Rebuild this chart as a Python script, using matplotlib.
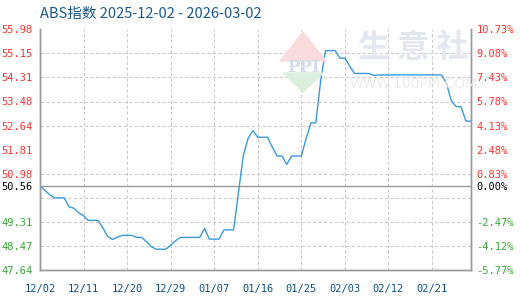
import numpy as np
import pandas as pd
import matplotlib
matplotlib.use("Agg")
import matplotlib.pyplot as plt
from matplotlib.patches import Polygon

plt.rcParams['font.family'] = ['DejaVu Sans', 'Noto Sans CJK SC']

title = "ABS指数 2025-12-02 - 2026-03-02"
base = 50.56

# daily index values, 12/02 onward
values = [50.56, 50.40, 50.25, 50.14, 50.14, 50.14, 49.83, 49.78, 49.62, 49.52,
          49.36, 49.36, 49.36, 49.10, 48.80, 48.70, 48.78, 48.84, 48.84, 48.84,
          48.77, 48.77, 48.62, 48.45, 48.36, 48.36, 48.36, 48.50, 48.65, 48.77,
          48.77, 48.77, 48.77, 48.77, 49.08, 48.71, 48.71, 48.71, 49.03, 49.03,
          49.03, 50.30, 51.60, 52.20, 52.47, 52.24, 52.24, 52.24, 51.90, 51.59,
          51.59, 51.30, 51.59, 51.59, 51.59, 52.20, 52.74, 52.74, 54.20, 55.24,
          55.24, 55.24, 54.98, 54.98, 54.70, 54.45, 54.45, 54.45, 54.45, 54.38,
          54.40, 54.40, 54.40, 54.40, 54.40, 54.40, 54.40, 54.40, 54.40, 54.40,
          54.40, 54.40, 54.40, 54.40, 54.10, 53.50, 53.30, 53.30, 52.80, 52.80]
dates = pd.date_range("2025-12-02", periods=len(values), freq="D")

left_ticks = [55.98, 55.15, 54.31, 53.48, 52.64, 51.81, 50.98, 50.56, 49.31, 48.47, 47.64]
right_labels = ["10.73%", "9.08%", "7.43%", "5.78%", "4.13%", "2.48%", "0.83%", "0.00%",
                "-2.47%", "-4.12%", "-5.77%"]
x_labels = ["12/02", "12/11", "12/20", "12/29", "01/07", "01/16", "01/25", "02/03", "02/12", "02/21"]

red = "#ff3333"
green = "#33aa33"
line_c = "#3a9ad9"
axis_c = "#999999"
grid_c = "#cccccc"
blue_txt = "#0b4f85"


def label_color(v):
    if v > base + 1e-9:
        return red
    if v < base - 1e-9:
        return green
    return "black"


fig = plt.figure(figsize=(5.2, 3.0), dpi=100)
ax = fig.add_axes([40 / 520, 30 / 300, 430.7 / 520, 240.7 / 300])

# watermark
fig.text(0.795, 0.84, "生 意 社", fontsize=23, color="#e3e7f0", ha="center", va="center",
         family=["Noto Sans CJK SC"], fontweight="bold", zorder=0)
fig.text(0.795, 0.72, "WWW.100PPI.COM", fontsize=10, color="#ebebeb", ha="center", va="center",
         zorder=0)
fig.patches.append(Polygon([[280 / 520, 1 - 61 / 300], [303 / 520, 1 - 32 / 300], [326 / 520, 1 - 61 / 300]],
                           closed=True, transform=fig.transFigure, color="#fadcdc", zorder=0))
fig.patches.append(Polygon([[283 / 520, 1 - 73 / 300], [303 / 520, 1 - 92 / 300], [323 / 520, 1 - 73 / 300]],
                           closed=True, transform=fig.transFigure, color="#dcf0df", zorder=0))
fig.text(303 / 520, 1 - 67 / 300, "PPI", fontsize=12, color="#d5dcea", ha="center", va="center",
         family=["DejaVu Serif"], fontweight="bold", zorder=0)
ax.patch.set_alpha(0)

ax.plot(dates, values, color=line_c, linewidth=1.0, zorder=3)
ax.axhline(base, color=axis_c, linewidth=1.0, zorder=2)

ax.set_xlim(dates[0], dates[-1])
ax.set_ylim(47.64, 55.98)

xt = [dates[0] + pd.Timedelta(days=9 * i) for i in range(len(x_labels))]
ax.set_xticks(xt)
ax.set_xticklabels(x_labels)
ax.set_yticks(left_ticks)
ax.set_yticklabels([f"{v:.2f}" for v in left_ticks])
ax.set_yticks(np.linspace(47.64, 55.98, 11), minor=True)
ax.grid(False)
ax.yaxis.grid(True, which="minor", color=grid_c, linestyle=(0, (3, 2)), linewidth=0.8)
ax.xaxis.grid(True, which="major", color=grid_c, linestyle=(0, (3, 2)), linewidth=0.8)
ax.set_axisbelow(True)

ax.tick_params(axis="both", which="both", length=0)
ax.tick_params(axis="x", pad=10, labelsize=7.5, labelcolor=blue_txt)
ax.tick_params(axis="y", pad=5, labelsize=7.5)
for lab, v in zip(ax.get_yticklabels(), left_ticks):
    lab.set_color(label_color(v))
    lab.set_family("DejaVu Sans Mono")
for lab in ax.get_xticklabels():
    lab.set_family("DejaVu Sans Mono")

ax2 = ax.twinx()
ax2.set_ylim(ax.get_ylim())
ax2.set_yticks(left_ticks)
ax2.set_yticklabels(right_labels)
ax2.tick_params(axis="y", length=0, pad=4, labelsize=7.5)
for lab, v in zip(ax2.get_yticklabels(), left_ticks):
    lab.set_color(label_color(v))
    lab.set_family("DejaVu Sans Mono")

for a in (ax, ax2):
    a.spines["top"].set_visible(False)
    for s in ("left", "right", "bottom"):
        a.spines[s].set_color(axis_c)
        a.spines[s].set_linewidth(1.0)

fig.text(40 / 520, 1 - 14 / 300, title, fontsize=10.5, color="#1a5a8a", ha="left", va="center",
         family=["Noto Sans CJK SC", "DejaVu Sans"])

fig.savefig("out.png", dpi=100)
